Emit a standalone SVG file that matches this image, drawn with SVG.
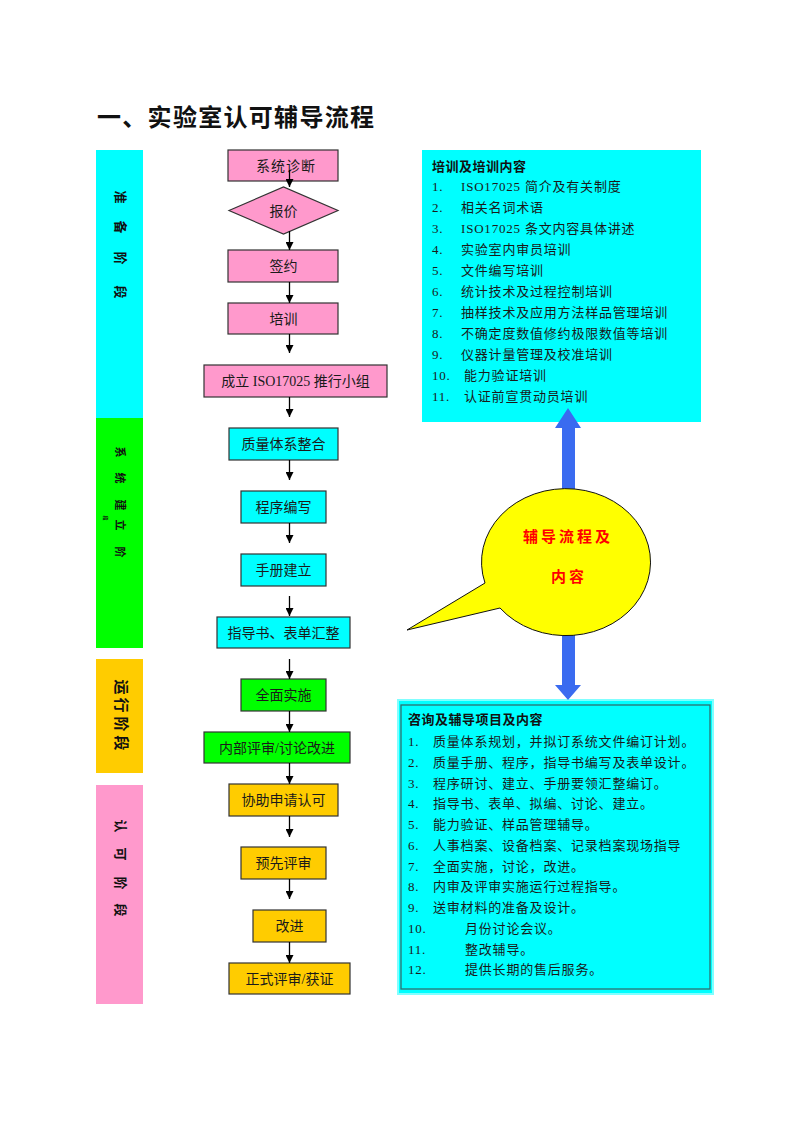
<svg xmlns="http://www.w3.org/2000/svg" width="800" height="1132" viewBox="0 0 800 1132">
<style>
.t{font-family:"Liberation Serif","Noto Sans CJK SC",serif;fill:#1a1a1a}
.n{font-size:14px;text-anchor:middle}
.l{font-size:13px;letter-spacing:0.8px}
.b{font-family:"Noto Sans CJK SC",sans-serif;font-weight:bold;fill:#111}
.st{font-family:"Noto Sans CJK SC",sans-serif;font-weight:bold;fill:#111;text-anchor:middle;dominant-baseline:central}
.pk{fill:#FF99CC;stroke:#333;stroke-width:1.2}
.cy{fill:#00FFFF;stroke:#333;stroke-width:1.2}
.gr{fill:#00FF00;stroke:#333;stroke-width:1.2}
.or{fill:#FFCC00;stroke:#333;stroke-width:1.2}
.c{stroke:#000;stroke-width:1.3;fill:none;marker-end:url(#ah)}
</style>
<defs>
<marker id="ah" markerUnits="userSpaceOnUse" markerWidth="8" markerHeight="8" refX="8" refY="4" orient="auto">
<path d="M0,0 L8,4 L0,8 z" fill="#000"/>
</marker>
</defs>
<rect width="800" height="1132" fill="#fff"/>

<text x="97" y="126" class="b" font-size="24" letter-spacing="1.3">一、实验室认可辅导流程</text>

<g id="stages">
<rect x="96" y="150" width="47" height="268" fill="#00FFFF"/>
<rect x="96" y="418" width="47" height="230" fill="#00FF00"/>
<rect x="96" y="659" width="47" height="114" fill="#FFCC00"/>
<rect x="96" y="785" width="47" height="219" fill="#FF99CC"/>
<g class="st" font-size="13">
<text transform="translate(121,197) rotate(90)">准</text>
<text transform="translate(121,227) rotate(90)">备</text>
<text transform="translate(121,258) rotate(90)">阶</text>
<text transform="translate(121,292) rotate(90)">段</text>
</g>
<g class="st" font-size="11">
<text transform="translate(121,452) rotate(90)">系</text>
<text transform="translate(121,478) rotate(90)">统</text>
<text transform="translate(121,505) rotate(90)">建</text>
<text transform="translate(121,525) rotate(90)">立</text>
<text transform="translate(121,552) rotate(90)">阶</text>
<text transform="translate(106,518) rotate(90)" font-size="5">段</text>
</g>
<g class="st" font-size="15">
<text transform="translate(122,687) rotate(90)">运</text>
<text transform="translate(122,705) rotate(90)">行</text>
<text transform="translate(122,724) rotate(90)">阶</text>
<text transform="translate(122,743) rotate(90)">段</text>
</g>
<g class="st" font-size="13">
<text transform="translate(121,826) rotate(90)">认</text>
<text transform="translate(121,854) rotate(90)">可</text>
<text transform="translate(121,883) rotate(90)">阶</text>
<text transform="translate(121,910) rotate(90)">段</text>
</g>
</g>

<g id="n1"><rect x="228" y="150" width="110" height="31" class="pk"/><text x="286" y="170.5" class="t n" letter-spacing="1">系统诊断</text></g>
<g id="n2"><polygon points="229,210.5 283.5,187 338,210.5 283.5,234" class="pk"/><text x="283.5" y="215.5" class="t n">报价</text></g>
<g id="n3"><rect x="228" y="250" width="110" height="32" class="pk"/><text x="283.5" y="271" class="t n">签约</text></g>
<g id="n4"><rect x="228" y="303" width="110" height="31" class="pk"/><text x="283.5" y="323.5" class="t n">培训</text></g>
<g id="n5"><rect x="204" y="365" width="183" height="32" class="pk"/><text x="295.5" y="386" class="t n">成立 ISO17025 推行小组</text></g>
<g id="n6"><rect x="229" y="428" width="109" height="32" class="cy"/><text x="283.5" y="449" class="t n">质量体系整合</text></g>
<g id="n7"><rect x="241" y="491" width="85" height="32" class="cy"/><text x="283.5" y="512" class="t n">程序编写</text></g>
<g id="n8"><rect x="241" y="554" width="85" height="32" class="cy"/><text x="283.5" y="575" class="t n">手册建立</text></g>
<g id="n9"><rect x="217" y="617" width="133" height="31" class="cy"/><text x="283.5" y="637.5" class="t n">指导书、表单汇整</text></g>
<g id="n10"><rect x="241" y="679" width="85" height="32" class="gr"/><text x="283.5" y="700" class="t n">全面实施</text></g>
<g id="n11"><rect x="204" y="732" width="146" height="31" class="gr"/><text x="277" y="752.5" class="t n">内部评审/讨论改进</text></g>
<g id="n12"><rect x="229" y="784" width="109" height="32" class="or"/><text x="283.5" y="805" class="t n">协助申请认可</text></g>
<g id="n13"><rect x="241" y="847" width="85" height="32" class="or"/><text x="283.5" y="868" class="t n">预先评审</text></g>
<g id="n14"><rect x="253" y="910" width="73" height="32" class="or"/><text x="289.5" y="931" class="t n">改进</text></g>
<g id="n15"><rect x="229" y="963" width="121" height="31" class="or"/><text x="289.5" y="983.5" class="t n">正式评审/获证</text></g>

<g id="connectors">
<line x1="289.5" y1="170" x2="289.5" y2="187" class="c"/>
<line x1="289.5" y1="231" x2="289.5" y2="250" class="c"/>
<line x1="289.5" y1="282" x2="289.5" y2="303" class="c"/>
<line x1="289.5" y1="334" x2="289.5" y2="353" class="c"/>
<line x1="289.5" y1="397" x2="289.5" y2="417" class="c"/>
<line x1="289.5" y1="460" x2="289.5" y2="480" class="c"/>
<line x1="289.5" y1="523" x2="289.5" y2="543" class="c"/>
<line x1="289.5" y1="596" x2="289.5" y2="616" class="c"/>
<line x1="289.5" y1="659" x2="289.5" y2="679" class="c"/>
<line x1="289.5" y1="711" x2="289.5" y2="732" class="c"/>
<line x1="289.5" y1="763" x2="289.5" y2="784" class="c"/>
<line x1="289.5" y1="816" x2="289.5" y2="837" class="c"/>
<line x1="289.5" y1="879" x2="289.5" y2="899" class="c"/>
<line x1="289.5" y1="942" x2="289.5" y2="963" class="c"/>
</g>

<g id="training">
<rect x="422" y="150" width="279" height="272" fill="#00FFFF"/>
<text x="432" y="171" class="b" font-size="13" letter-spacing="0.5">培训及培训内容</text>
<g class="t l">
<text x="432" y="191">1.</text><text x="461" y="191">ISO17025 简介及有关制度</text>
<text x="432" y="212">2.</text><text x="461" y="212">相关名词术语</text>
<text x="432" y="233">3.</text><text x="461" y="233">ISO17025 条文内容具体讲述</text>
<text x="432" y="254">4.</text><text x="461" y="254">实验室内审员培训</text>
<text x="432" y="275">5.</text><text x="461" y="275">文件编写培训</text>
<text x="432" y="296">6.</text><text x="461" y="296">统计技术及过程控制培训</text>
<text x="432" y="317">7.</text><text x="461" y="317">抽样技术及应用方法样品管理培训</text>
<text x="432" y="338">8.</text><text x="461" y="338">不确定度数值修约极限数值等培训</text>
<text x="432" y="359">9.</text><text x="461" y="359">仪器计量管理及校准培训</text>
<text x="432" y="380">10.</text><text x="464" y="380">能力验证培训</text>
<text x="432" y="401">11.</text><text x="464" y="401">认证前宣贯动员培训</text>
</g>
</g>

<g id="consult">
<rect x="398" y="700" width="315" height="294" fill="#00FFFF" stroke="#80FFFF" stroke-width="2"/>
<rect x="401" y="705" width="309" height="284" fill="none" stroke="#2F6F6F" stroke-width="1.3"/>
<text x="408" y="724" class="b" font-size="13" letter-spacing="0.5">咨询及辅导项目及内容</text>
<g class="t l">
<text x="408" y="746">1.</text><text x="433" y="746">质量体系规划，并拟订系统文件编订计划。</text>
<text x="408" y="766.75">2.</text><text x="433" y="766.75">质量手册、程序，指导书编写及表单设计。</text>
<text x="408" y="787.5">3.</text><text x="433" y="787.5">程序研讨、建立、手册要领汇整编订。</text>
<text x="408" y="808.25">4.</text><text x="433" y="808.25">指导书、表单、拟编、讨论、建立。</text>
<text x="408" y="829">5.</text><text x="433" y="829">能力验证、样品管理辅导。</text>
<text x="408" y="849.75">6.</text><text x="433" y="849.75">人事档案、设备档案、记录档案现场指导</text>
<text x="408" y="870.5">7.</text><text x="433" y="870.5">全面实施，讨论，改进。</text>
<text x="408" y="891.25">8.</text><text x="433" y="891.25">内审及评审实施运行过程指导。</text>
<text x="408" y="912">9.</text><text x="433" y="912">送审材料的准备及设计。</text>
<text x="408" y="932.75">10.</text><text x="465" y="932.75">月份讨论会议。</text>
<text x="408" y="953.5">11.</text><text x="465" y="953.5">整改辅导。</text>
<text x="408" y="974.25">12.</text><text x="465" y="974.25">提供长期的售后服务。</text>
</g>
</g>

<g id="bluearrow">
<polygon points="568,408 581,428 575,428 575,685 581,685 568,700 555,685 562,685 562,428 555,428" fill="#3A6BF0"/>
</g>

<g id="callout">
<path d="M485,583 L407,630 L500,608 A84.5,73.5 0 1 0 485,583 Z" fill="#FFFF00" stroke="#111" stroke-width="1"/>
<text x="568" y="542" class="b" font-size="15" fill="#FF0000" style="fill:#FF0000" text-anchor="middle" letter-spacing="3">辅导流程及</text>
<text x="569" y="582" class="b" font-size="15" style="fill:#FF0000" text-anchor="middle" letter-spacing="3">内容</text>
</g>
</svg>
